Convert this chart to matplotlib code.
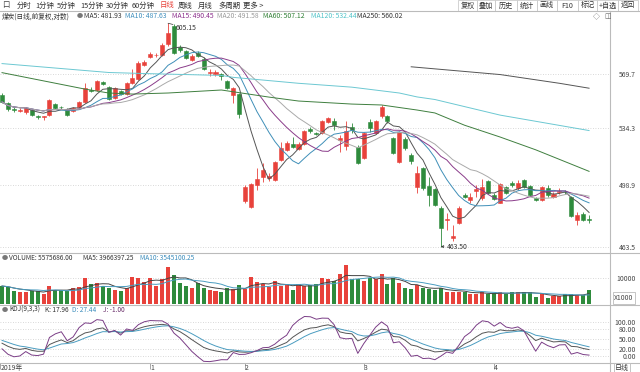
import numpy as np
import pandas as pd
import matplotlib
matplotlib.use('Agg')
import matplotlib.pyplot as plt
from matplotlib.lines import Line2D
from matplotlib.patches import Rectangle
from matplotlib.ticker import NullLocator

plt.rcParams['font.family'] = ['Noto Sans CJK SC', 'DejaVu Sans']

# daily candles (log price axis)
opens = [555.5, 550.2, 546.2, 545.2, 544.3, 545.6, 541.5, 541.0, 542.3, 549.5,
         547.6, 546.2, 544.9, 547.6, 550.9, 558.8, 558.8, 564.0, 560.7, 553.5,
         558.1, 556.1, 563.3, 566.0, 576.0, 581.5, 582.5, 582.8, 590.3, 603.5,
         588.3, 585.5, 579.4, 584.2, 580.1, 570.3, 569.9, 569.9, 564.6, 555.5,
         556.1, 489.6, 486.2, 498.7, 503.6, 503.0, 501.8, 514.1, 520.3, 524.0,
         520.9, 524.0, 533.3, 530.8, 530.8, 537.8, 538.4, 526.5, 522.8, 534.5,
         522.1, 515.4, 537.8, 530.8, 541.7, 541.7, 527.7, 512.9, 527.1, 517.2,
         497.6, 509.2, 498.2, 496.4, 485.6, 478.2, 468.5, 477.0, 493.0, 490.2,
         495.3, 491.3, 501.2, 493.0, 488.5, 497.6, 499.9, 497.0, 501.8, 498.2,
         491.3, 490.2, 497.0, 491.9, 494.7, 494.8, 491.9, 478.7, 482.2, 479.3]
closes = [550.9, 546.2, 545.6, 545.9, 546.9, 542.3, 541.0, 541.5, 552.2, 546.9,
          547.3, 542.3, 546.9, 550.9, 560.1, 558.1, 564.6, 562.7, 552.8, 560.1,
          556.1, 563.3, 566.6, 577.4, 578.1, 583.5, 582.9, 589.6, 597.8, 584.2,
          586.2, 580.8, 582.1, 582.1, 573.3, 570.9, 570.6, 567.9, 560.1, 560.1,
          543.0, 497.6, 499.3, 502.4, 507.9, 504.5, 512.9, 521.5, 524.6, 522.1,
          524.0, 532.0, 532.0, 530.2, 538.4, 540.4, 535.8, 527.7, 532.0, 532.6,
          512.3, 530.8, 533.9, 538.4, 547.6, 538.4, 518.4, 531.4, 521.5, 513.5,
          506.1, 497.0, 493.0, 487.3, 474.2, 479.3, 469.6, 485.6, 491.9, 491.9,
          496.4, 497.6, 494.2, 490.7, 499.3, 494.2, 498.7, 499.9, 497.6, 493.0,
          490.2, 497.6, 493.0, 493.6, 495.3, 494.6, 480.5, 481.6, 478.7, 478.7]
highs = [557.0, 551.0, 547.5, 547.0, 547.8, 546.5, 542.3, 542.0, 553.0, 550.5,
         548.5, 547.0, 547.5, 551.5, 563.3, 560.5, 565.5, 565.0, 561.5, 561.0,
         559.0, 564.0, 573.3, 578.5, 579.0, 584.5, 584.0, 591.0, 605.15, 604.5,
         589.5, 586.0, 583.0, 585.5, 581.0, 573.0, 572.0, 570.5, 565.5, 561.0,
         557.0, 499.0, 500.0, 509.2, 512.3, 506.0, 513.5, 525.2, 525.5, 528.3,
         525.0, 533.0, 534.5, 531.5, 539.0, 541.0, 540.4, 529.5, 538.4, 537.0,
         523.0, 531.5, 539.7, 539.0, 548.9, 542.3, 528.5, 532.0, 528.3, 518.4,
         510.4, 510.0, 503.6, 497.0, 486.5, 482.7, 475.9, 486.5, 494.0, 494.2,
         498.7, 502.4, 502.0, 494.0, 500.0, 498.5, 501.2, 501.8, 502.5, 499.0,
         492.0, 498.5, 498.7, 494.5, 497.0, 496.0, 492.5, 483.3, 483.0, 481.6]
lows = [550.0, 545.0, 544.5, 544.0, 543.0, 541.5, 539.5, 539.0, 541.5, 546.0,
        546.5, 541.5, 544.0, 547.0, 550.0, 557.5, 558.0, 562.0, 552.0, 552.8,
        555.5, 555.5, 562.5, 565.5, 575.0, 580.5, 581.0, 582.0, 589.0, 583.0,
        585.0, 580.0, 578.5, 581.5, 572.5, 568.5, 568.0, 565.3, 559.5, 550.2,
        540.4, 488.5, 485.5, 495.9, 500.5, 501.5, 501.0, 513.5, 519.5, 521.5,
        520.0, 523.5, 530.8, 529.5, 530.0, 537.0, 532.6, 519.0, 520.3, 530.8,
        511.5, 514.5, 531.4, 530.0, 540.4, 537.1, 517.5, 512.0, 520.3, 511.7,
        494.2, 496.0, 486.7, 486.5, 463.5, 473.0, 466.7, 476.0, 491.0, 488.5,
        491.9, 490.2, 493.5, 490.0, 488.0, 493.5, 497.6, 495.9, 497.0, 492.5,
        489.5, 489.5, 491.9, 491.0, 493.6, 493.5, 480.0, 475.9, 478.0, 477.0]
# volume in thousands (axis shows X1000)
volumes = [6970, 6480, 5200, 4600, 4600, 5200, 5200, 3850, 7090, 5470,
           5470, 5200, 6110, 6480, 9880, 7730, 7990, 7090, 6110, 5470,
           5200, 6110, 10250, 10100, 8600, 9880, 7090, 9610, 14250, 11120,
           7990, 7090, 6110, 7990, 6330, 5470, 5090, 4830, 6330, 5730,
           7350, 5840, 10250, 8370, 7730, 6480, 8860, 6970, 7620, 5470,
           7620, 7090, 7350, 7730, 10100, 9610, 8970, 11390, 14890, 9610,
           9610, 8970, 10100, 9500, 11500, 7730, 9880, 8220, 6110, 5730,
           7350, 6110, 5840, 5470, 6110, 4600, 4830, 4830, 4830, 3850,
           3850, 4600, 3850, 4220, 4600, 3850, 4600, 4830, 4600, 4600,
           2940, 3850, 2560, 3200, 3200, 3850, 3850, 3580, 3580, 5576]

# long moving averages need history before the window
ma60_idx = [0, 14, 18, 22, 28, 37, 45, 50, 59, 64, 70, 73, 78, 84, 90, 99]
ma60_val = [570.5, 559.4, 556.8, 556.1, 556.8, 558.8, 554.1, 551.5, 549.5,
            548.9, 545.6, 543.7, 535.8, 528.3, 520.3, 507.1]
ma120_idx = [0, 18, 24, 37, 39, 50, 59, 67, 70, 73, 84, 99]
ma120_val = [576.7, 570.6, 569.9, 568.6, 567.3, 563.3, 560.7, 556.8, 554.2,
             552.5, 542.3, 532.4]
ma250_idx = [69, 84, 94, 99]
ma250_val = [574.5, 569.2, 563.3, 560.0]

price_ticks = [463.5, 498.9, 534.3, 569.7]
kdj_ticks = [0, 20, 50, 80, 100]
month_idx = [-0.3, 25, 41, 61, 83]
month_labels = ['2019年', '1', '2', '3', '4']

RED = '#e8423b'
GREEN = '#2e8b3c'
W, H = 640, 372


def fx(px):
    return px / W


def fy(py):
    return 1 - py / H


fig = plt.figure(figsize=(6.4, 3.72), dpi=100)
fig.patch.set_facecolor('white')
ax = fig.add_axes([0, fy(253), fx(610), (253 - 13) / H])
axv = fig.add_axes([0, fy(305), fx(610), (305 - 253) / H], sharex=ax)
axk = fig.add_axes([0, fy(363), fx(610), (363 - 305) / H], sharex=ax)
for a in (ax, axv, axk):
    for s in a.spines.values():
        s.set_visible(False)
    a.yaxis.tick_right()
    a.grid(axis='y', ls=(0, (1, 2)), color='#cccccc', lw=0.6)
    a.set_axisbelow(True)

x = np.arange(len(closes))
o = np.array(opens)
c = np.array(closes)
hi = np.array(highs)
lo = np.array(lows)
up = c >= o
cols = np.where(up, RED, GREEN)

# candles
ax.vlines(x, lo, hi, colors=cols, lw=0.6, zorder=2)
ax.bar(x, np.maximum(np.abs(c - o), 0.2), bottom=np.minimum(o, c), width=0.68,
       color=cols, edgecolor=cols, linewidth=0.4, zorder=3)
ax.set_yscale('log')
ax.set_ylim(460.0, 612.6)
ax.set_xlim(-0.34, 102.53)

s = pd.Series(closes)
for n, col in [(5, '#555555'), (10, '#3f8fb8'), (15, '#8a3c8a'), (20, '#aaaaaa')]:
    ax.plot(x, s.rolling(n, min_periods=1).mean(), color=col, lw=0.7, zorder=4)
ax.plot(ma60_idx, ma60_val, color='#3f7f3f', lw=0.7, zorder=4)
ax.plot(ma120_idx, ma120_val, color='#6cc8d2', lw=0.7, zorder=4)
ax.plot(ma250_idx, ma250_val, color='#555555', lw=0.7, zorder=4)

ax.yaxis.set_minor_locator(NullLocator())
ax.set_yticks(price_ticks, [f'{v:.1f}' for v in price_ticks], ha='right')
ax.tick_params(axis='y', length=0, pad=18.5, labelsize=4.9, labelcolor='#444')
ax.tick_params(axis='x', bottom=False, labelbottom=False)

ax.annotate('605.15', xy=(28, 605.15), xytext=(29.3, 601.9), fontsize=4.9,
            color='#333', ha='left', va='center',
            arrowprops=dict(arrowstyle='-', lw=0.5, color='#333', shrinkA=0, shrinkB=0))
ax.annotate('463.50', xy=(74, 463.5), xytext=(75.0, 463.5), fontsize=4.9,
            color='#333', ha='left', va='center',
            arrowprops=dict(arrowstyle='->', lw=0.5, color='#333', shrinkA=0,
                            shrinkB=0, mutation_scale=4))

# volume
vs = pd.Series(volumes)
axv.bar(x, volumes, width=0.68, color=cols, lw=0, zorder=2)
axv.plot(x, vs.rolling(5, min_periods=1).mean(), color='#444444', lw=0.7, zorder=3)
axv.plot(x, vs.rolling(10, min_periods=1).mean(), color='#4a9cc0', lw=0.7, zorder=3)
axv.set_ylim(-190, 19416)
axv.set_yticks([10000], ['10000'], ha='right')
axv.tick_params(axis='y', length=0, pad=18.5, labelsize=4.9, labelcolor='#444')
axv.tick_params(axis='x', bottom=False, labelbottom=False)

# KDJ(9,3,3)
low9 = pd.Series(lows).rolling(9, min_periods=1).min()
high9 = pd.Series(highs).rolling(9, min_periods=1).max()
rsv = ((s - low9) / (high9 - low9) * 100).values
K = np.zeros(len(rsv))
D = np.zeros(len(rsv))
kp, dp = 50.0, 50.0
for i, r in enumerate(rsv):
    kp = (2 * kp + r) / 3
    dp = (2 * dp + kp) / 3
    K[i], D[i] = kp, dp
J = 3 * K - 2 * D
axk.plot(x, K, color='#555555', lw=0.7)
axk.plot(x, D, color='#4a9cc0', lw=0.7)
axk.plot(x, J, color='#7a3d86', lw=0.7)
axk.set_ylim(-20.6, 150)
axk.set_yticks(kdj_ticks, [f'{v:.2f}' for v in kdj_ticks], ha='right')
axk.tick_params(axis='y', length=0, pad=18.5, labelsize=4.9, labelcolor='#444')
axk.set_xticks(month_idx, month_labels, ha='left')
axk.tick_params(axis='x', direction='out', length=4, width=0.6, color='#999999',
                pad=-3.6, labelsize=4.9, labelcolor='#444')

# frame lines
line_kw = dict(transform=fig.transFigure, color='#bbbbbb', lw=0.8)
for py in (11, 253, 305, 363):
    fig.add_artist(Line2D([0, 1], [fy(py), fy(py)], **line_kw))
fig.add_artist(Line2D([fx(610), fx(610)], [0, fy(11)], **line_kw))


def T(px, py, txt, color='#333333', size=4.9, ha='left', **kw):
    return fig.text(fx(px), fy(py), txt, color=color, fontsize=size, ha=ha,
                    va='center', **kw)


# toolbar
T(2, 5.5, '口', '#444', 5.3)
tool_items = [(17, '分时'), (35, '1分钟'), (57, '5分钟'), (80, '15分钟'),
              (106, '30分钟'), (132, '60分钟'), (160, '日线'), (178, '周线'),
              (198, '月线'), (218, '多周期'), (243, '更多 >')]
for px, t in tool_items:
    T(px, 5.5, t, RED if t == '日线' else '#333', 5.3)
btn_edges = [458, 477, 495, 517, 537, 557, 578, 597, 618, 638]
btn_labels = ['复权', '叠加', '历史', '统计', '画线', 'F10', '标记', '+自选', '返回']
for i, t in enumerate(btn_labels):
    x0, x1 = btn_edges[i], btn_edges[i + 1]
    fig.add_artist(Rectangle((fx(x0), fy(11)), fx(x1 - x0), 11 / H,
                             transform=fig.transFigure, fill=False,
                             ec='#cccccc', lw=0.6))
    T((x0 + x1) / 2, 5.5, t, '#333', 5.1, ha='center')

# main header
T(2, 16.5, '煤炭(日线,前复权,对数)', '#333', 4.8)
T(77, 16.5, '●', '#777', 4.5)
head = [(84, 'MA5: 481.93', '#333333'), (125, 'MA10: 487.63', '#3c8dbc'),
        (172, 'MA15: 490.45', '#8b2d8b'), (217, 'MA20: 491.58', '#999999'),
        (263, 'MA60: 507.12', '#2e7d32'), (311, 'MA120: 532.44', '#4fc3c8'),
        (357, 'MA250: 560.02', '#333333')]
for px, t, col in head:
    T(px, 16.5, t, col)
T(593, 16.5, '◇', '#666', 5)
T(604, 16.5, '◫', '#666', 5)

# volume header
T(2, 258.5, '●', '#777', 4.5)
T(9, 258.5, 'VOLUME: 5575686.00', '#333', 4.7)
T(83, 258.5, 'MA5: 3966397.25', '#333', 4.7)
T(140, 258.5, 'MA10: 3545100.25', '#3c8dbc', 4.7)
T(624, 298, 'X1000', '#444', 4.9, ha='center',
  bbox=dict(boxstyle='square,pad=0.25', fc='white', ec='#bbbbbb', lw=0.6))

# KDJ header
T(2, 310, '●', '#777', 4.5)
T(9, 310, 'KDJ(9,3,3)', '#333', 4.7)
T(45, 310, 'K: 17.96', '#333', 4.7)
T(72, 310, 'D: 27.44', '#3c8dbc', 4.7)
T(103, 310, 'J: -1.00', '#6b2f6b', 4.7)
T(622, 368, '日线', '#333', 5, ha='center',
  bbox=dict(boxstyle='square,pad=0.2', fc='white', ec='#bbbbbb', lw=0.6))

fig.savefig('out.png', dpi=100)
